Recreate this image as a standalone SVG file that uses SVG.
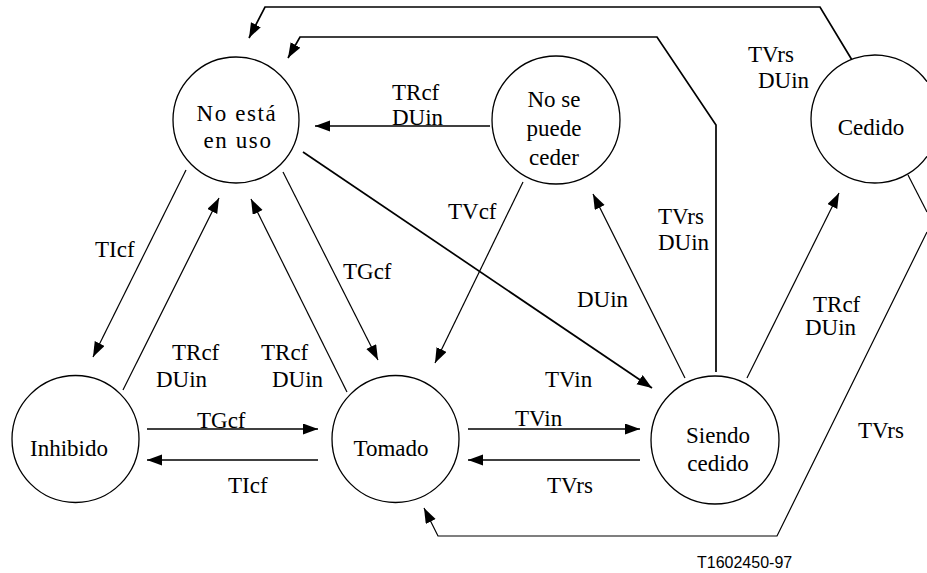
<svg xmlns="http://www.w3.org/2000/svg" width="927" height="573" viewBox="0 0 927 573" font-family="'Liberation Serif', 'Times New Roman', serif">
  <style>
    .state { fill: #fff; stroke: #000; stroke-width: 1.3; }
    .edge { fill: none; stroke: #000; stroke-width: 1.2; }
    .bold { stroke-width: 1.7; }
    text { font-family: 'Liberation Serif', 'Times New Roman', serif; font-size: 23px; fill: #000; }
    .name { text-anchor: middle; }
    .spaced { letter-spacing: 1.6px; }
    text.code { font-family: 'Liberation Sans', Arial, sans-serif; font-size: 16px; }
  </style>
  <defs>
    <marker id="arrow" markerUnits="userSpaceOnUse" markerWidth="16" markerHeight="12" refX="15" refY="5.5" orient="auto">
      <path d="M0,0 L15,5.5 L0,11 z" fill="#000"/>
    </marker>
  </defs>
  <rect width="927" height="573" fill="#fff"/>

  <!-- transitions -->
  <g id="connectors">
    <polyline class="edge bold" marker-end="url(#arrow)" points="852,60 820,7 265,7 249,38"/>
    <polyline class="edge bold" marker-end="url(#arrow)" points="716,372 716,125 657,37 300,37 288,58"/>
    <line class="edge bold" marker-end="url(#arrow)" x1="490" y1="126" x2="315" y2="126"/>
    <line class="edge bold" marker-end="url(#arrow)" x1="303" y1="152" x2="652" y2="388"/>
    <line class="edge" marker-end="url(#arrow)" x1="186" y1="170" x2="93" y2="357"/>
    <line class="edge" marker-end="url(#arrow)" x1="123" y1="390" x2="219" y2="198"/>
    <line class="edge" marker-end="url(#arrow)" x1="347" y1="392" x2="251" y2="199"/>
    <line class="edge" marker-end="url(#arrow)" x1="283" y1="172" x2="378" y2="360"/>
    <line class="edge" marker-end="url(#arrow)" x1="523" y1="182" x2="435" y2="363"/>
    <line class="edge" marker-end="url(#arrow)" x1="685" y1="378" x2="593" y2="194"/>
    <line class="edge" marker-end="url(#arrow)" x1="747" y1="378" x2="839" y2="193"/>
    <!-- Cedido to Tomado: the bend lies just past the right edge -->
    <line class="edge" x1="908" y1="175" x2="927" y2="212"/>
    <polyline class="edge" marker-end="url(#arrow)" points="927,232 777,536 438,536 424,508"/>
    <line class="edge bold" marker-end="url(#arrow)" x1="147" y1="429" x2="318" y2="429"/>
    <line class="edge bold" marker-end="url(#arrow)" x1="318" y1="460" x2="147" y2="460"/>
    <line class="edge bold" marker-end="url(#arrow)" x1="468" y1="429" x2="640" y2="429"/>
    <line class="edge bold" marker-end="url(#arrow)" x1="640" y1="460" x2="468" y2="460"/>
  </g>

  <!-- transition labels -->
  <g id="labels">
    <text x="392" y="100">TRcf</text>
    <text x="392" y="125">DUin</text>
    <text x="658" y="224">TVrs</text>
    <text x="658" y="250">DUin</text>
    <text x="748" y="62">TVrs</text>
    <text x="758" y="88">DUin</text>
    <text x="95" y="257">TIcf</text>
    <text x="172" y="360">TRcf</text>
    <text x="156" y="387">DUin</text>
    <text x="261" y="360">TRcf</text>
    <text x="272" y="387">DUin</text>
    <text x="343" y="279">TGcf</text>
    <text x="448" y="219">TVcf</text>
    <text x="577" y="307">DUin</text>
    <text x="813" y="312">TRcf</text>
    <text x="805" y="335">DUin</text>
    <text x="858" y="438">TVrs</text>
    <text x="197" y="428">TGcf</text>
    <text x="228" y="493">TIcf</text>
    <text x="515" y="426">TVin</text>
    <text x="547" y="493">TVrs</text>
    <text x="545" y="387">TVin</text>
  </g>

  <!-- states -->
  <g id="no-esta-en-uso">
    <circle class="state" cx="236" cy="120" r="63"/>
    <text class="name spaced" x="237" y="121">No está</text>
    <text class="name spaced" x="238" y="148">en uso</text>
  </g>
  <g id="no-se-puede-ceder">
    <circle class="state" cx="556" cy="120" r="64"/>
    <text class="name" x="554" y="107">No se</text>
    <text class="name" x="554" y="136">puede</text>
    <text class="name" x="554" y="165">ceder</text>
  </g>
  <g id="cedido">
    <!-- circle cut off by the right edge -->
    <path class="state" d="M927,81.7 A64,64 0 1 0 927,156.3"/>
    <text class="name" x="871" y="135">Cedido</text>
  </g>
  <g id="inhibido">
    <circle class="state" cx="75.5" cy="439" r="63.5"/>
    <text class="name" x="69" y="456">Inhibido</text>
  </g>
  <g id="tomado">
    <circle class="state" cx="395.5" cy="439" r="63.5"/>
    <text class="name" x="391" y="456">Tomado</text>
  </g>
  <g id="siendo-cedido">
    <circle class="state" cx="715" cy="440" r="64"/>
    <text class="name" x="718" y="443">Siendo</text>
    <text class="name" x="718" y="471">cedido</text>
  </g>

  <text class="code" x="697" y="568">T1602450-97</text>
</svg>
